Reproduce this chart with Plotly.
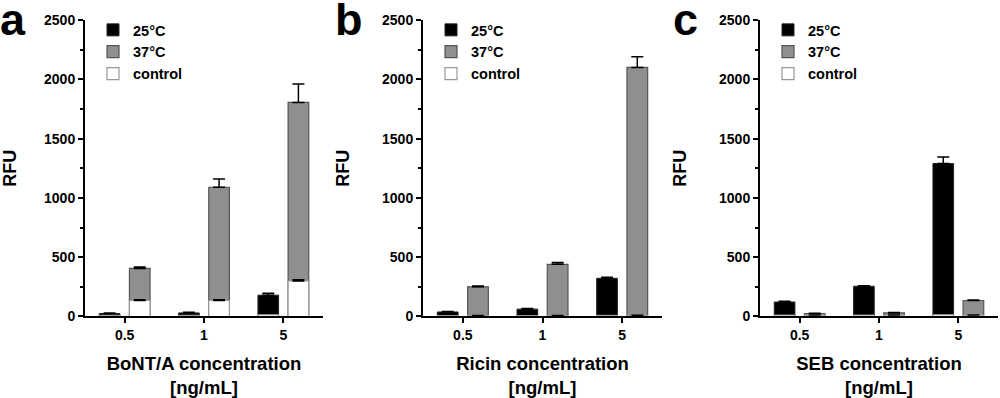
import plotly.graph_objects as go

categories = ["0.5", "1", "5"]
panels = ["a", "b", "c"]
x_titles = ["BoNT/A concentration<br>[ng/mL]", "Ricin concentration<br>[ng/mL]", "SEB concentration<br>[ng/mL]"]

# panel a: BoNT/A
a_25 = [25, 30, 180]
a_25_err = [5, 6, 15]
a_37 = [405, 1090, 1805]
a_37_err = [12, 70, 155]
a_ctrl25 = [10, 10, 15]
a_ctrl37 = [135, 135, 300]
a_ctrl37_err = [6, 6, 10]

# panel b: Ricin
b_25 = [38, 62, 322]
b_25_err = [4, 5, 8]
b_37 = [250, 440, 2100]
b_37_err = [8, 15, 90]
b_ctrl25 = [8, 8, 10]
b_ctrl37 = [8, 8, 10]
b_ctrl37_err = [0, 0, 0]

# panel c: SEB
c_25 = [122, 255, 1290]
c_25_err = [6, 5, 55]
c_37 = [25, 30, 135]
c_37_err = [3, 4, 4]
c_ctrl25 = [12, 12, 15]
c_ctrl37 = [12, 12, 12]
c_ctrl37_err = [0, 0, 0]

data = [
    (a_25, a_25_err, a_37, a_37_err, a_ctrl25, a_ctrl37, a_ctrl37_err),
    (b_25, b_25_err, b_37, b_37_err, b_ctrl25, b_ctrl37, b_ctrl37_err),
    (c_25, c_25_err, c_37, c_37_err, c_ctrl25, c_ctrl37, c_ctrl37_err),
]

FONT = "Liberation Sans, Arial, sans-serif"
W = 0.26
OFF25 = -0.32
OFF37 = 0.06
GRAY = "#8f8f8f"

x_domains = [[0.085, 0.323], [0.423, 0.662], [0.760, 0.998]]
y_domain = [0.2048, 0.9497]

fig = go.Figure()

def err(vals, width=6):
    return dict(type="data", array=vals, arrayminus=[0] * len(vals), symmetric=False,
                color="black", thickness=1.5, width=width)

for i, (v25, e25, v37, e37, c25, c37, ec37) in enumerate(data):
    n = "" if i == 0 else str(i + 1)
    xa = "x" + n
    ya = "y" + n
    lg = "legend" + n
    fig.add_trace(go.Bar(x=categories, y=v25, name="25°C", xaxis=xa, yaxis=ya, legend=lg,
                         width=W, offset=OFF25, marker=dict(color="black", line=dict(color="#222", width=1)),
                         error_y=err(e25)))
    fig.add_trace(go.Bar(x=categories, y=v37, name="37°C", xaxis=xa, yaxis=ya, legend=lg,
                         width=W, offset=OFF37, marker=dict(color=GRAY, line=dict(color="#555", width=1.2)),
                         error_y=err(e37)))
    fig.add_trace(go.Bar(x=categories, y=c25, name="control", xaxis=xa, yaxis=ya, legend=lg,
                         width=W, offset=OFF25, showlegend=False,
                         marker=dict(color="white", line=dict(color="#999", width=1))))
    fig.add_trace(go.Bar(x=categories, y=c37, name="control", xaxis=xa, yaxis=ya, legend=lg,
                         width=W, offset=OFF37,
                         marker=dict(color="white", line=dict(color="#999", width=1.2)),
                         error_y=err(ec37)))

    fig.layout["xaxis" + n] = dict(
        domain=x_domains[i], anchor=ya, type="category", range=[-0.5, 2.5], automargin=False,
        showline=True, linecolor="black", linewidth=2, ticks="outside", ticklen=5,
        tickwidth=2, tickcolor="black", showgrid=False, zeroline=False,
        tickfont=dict(family=FONT, size=14, color="black", weight="bold"),
        title=dict(text=x_titles[i], font=dict(family=FONT, size=18.5, color="black", weight="bold"),
                   standoff=21),
    )
    fig.layout["yaxis" + n] = dict(
        domain=y_domain, anchor=xa, range=[0, 2500], tickvals=[0, 500, 1000, 1500, 2000, 2500],
        automargin=False,
        showline=True, linecolor="black", linewidth=2, ticks="outside", ticklen=5,
        tickwidth=2, tickcolor="black", showgrid=False, zeroline=False,
        minor=dict(dtick=250, tick0=0, ticks="outside", ticklen=3, tickwidth=1.5, tickcolor="black", showgrid=False),
        tickfont=dict(family=FONT, size=14, color="black", weight="bold"),
        title=dict(text="RFU", font=dict(family=FONT, size=18, color="black", weight="bold"), standoff=28),
    )
    fig.layout[lg] = dict(
        x=x_domains[i][0] + 0.008, y=0.965, xanchor="left", yanchor="top",
        bgcolor="rgba(0,0,0,0)", font=dict(family=FONT, size=14.5, color="black", weight="bold"),
        tracegroupgap=0,
    )
    fig.add_annotation(text=panels[i], xref="paper", yref="paper",
                       x=[-0.002, 0.333, 0.671][i], y=1.02, xanchor="left", yanchor="top",
                       showarrow=False, font=dict(family=FONT, size=45, color="black", weight="bold"))

fig.update_layout(
    width=1000, height=398, margin=dict(l=0, r=0, t=0, b=0),
    barmode="overlay", plot_bgcolor="white", paper_bgcolor="white",
)

fig.write_html("out.html", config={"displayModeBar": False},
               post_script="document.body.style.margin='0';document.body.style.overflow='hidden';")
